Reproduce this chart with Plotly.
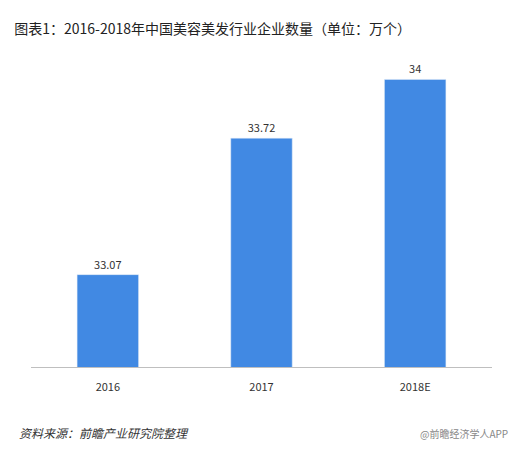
import plotly.graph_objects as go

years = ["2016", "2017", "2018E"]
counts = [33.07, 33.72, 34]
labels = ["33.07", "33.72", "34"]

fig = go.Figure(go.Bar(x=years, y=counts, text=labels, textposition="outside",
                       marker_color="#4189e3", width=0.4,
                       textfont=dict(size=11, color="#333333"), cliponaxis=False))
fig.update_layout(
    width=518, height=449, plot_bgcolor="white", paper_bgcolor="white",
    margin=dict(l=23, r=34, t=42, b=90),
    font=dict(family="Noto Sans CJK SC", color="#333333"),
    showlegend=False,
    title=dict(text="图表1：2016-2018年中国美容美发行业企业数量（单位：万个）",
               x=0.012, y=0.965, xanchor="left", font=dict(size=14, color="#222222")),
    xaxis=dict(showline=True, linecolor="#bfbfbf", tickfont=dict(size=11), ticks="",
               ticklabelstandoff=10),
    yaxis=dict(range=[32.63, 34.14], visible=False),
)
fig.add_annotation(text="<i>资料来源：前瞻产业研究院整理</i>", xref="paper", yref="paper",
                   x=-0.03, y=-0.24, xanchor="left", showarrow=False,
                   font=dict(size=12, color="#333333"))
fig.add_annotation(text="@前瞻经济学人APP", xref="paper", yref="paper",
                   x=1.04, y=-0.24, xanchor="right", showarrow=False,
                   font=dict(size=10, color="#888888"))
fig.write_html("out.html")
